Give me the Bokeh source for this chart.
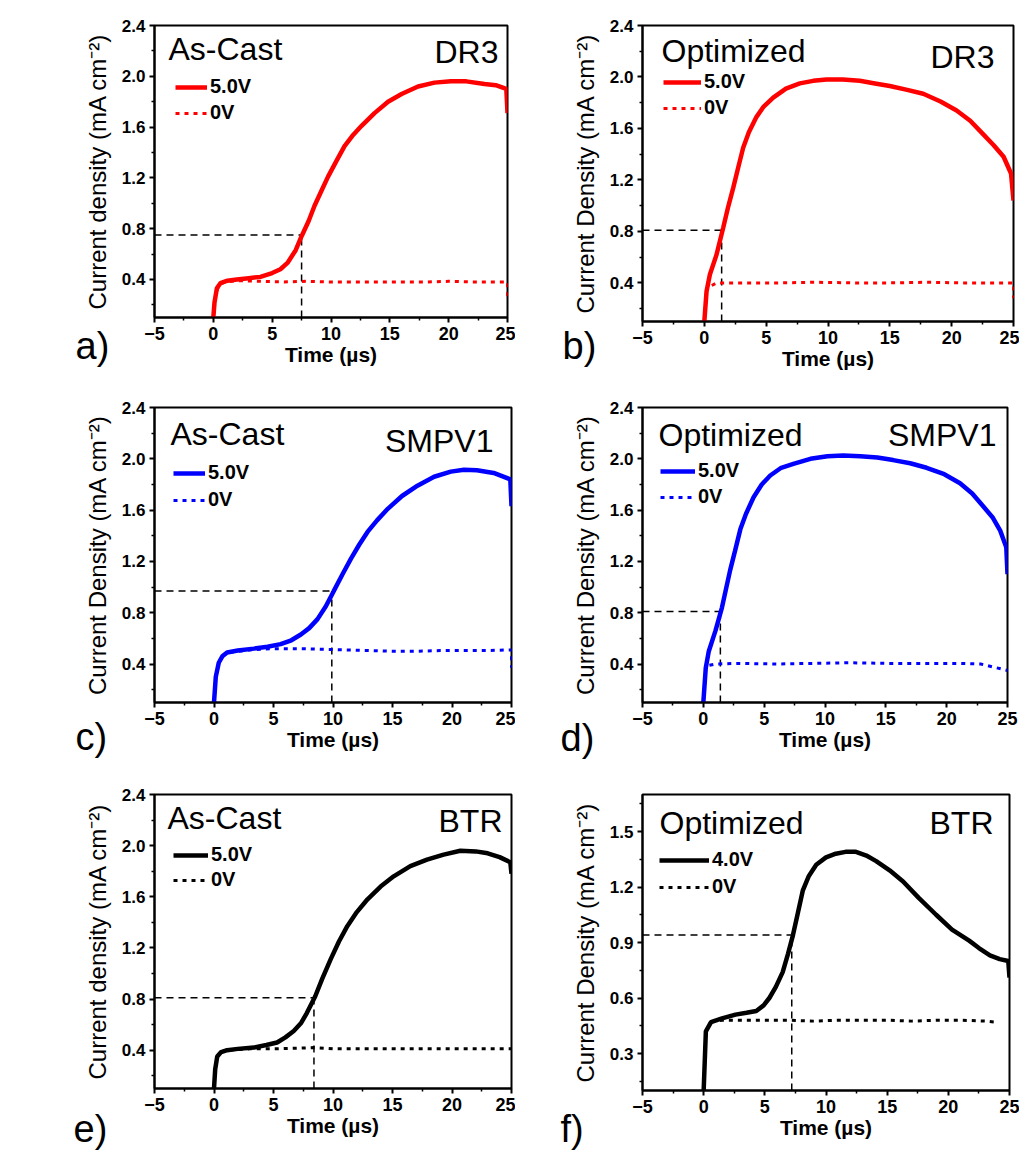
from bokeh.plotting import figure
from bokeh.layouts import gridplot
from bokeh.models import (FixedTicker, NumeralTickFormatter, Legend, LegendItem,
                          Label, Range1d)
from bokeh.embed import file_html
from bokeh.resources import INLINE

FONT = "Liberation Sans"

# ---------------- data ----------------
x_ticks = [-5, 0, 5, 10, 15, 20, 25]
x_minor = [-2.5, 2.5, 7.5, 12.5, 17.5, 22.5]
y_ticks_main = [0.4, 0.8, 1.2, 1.6, 2.0, 2.4]
y_minor_main = [0.2, 0.6, 1.0, 1.4, 1.8, 2.2]
y_ticks_f = [0.3, 0.6, 0.9, 1.2, 1.5]
y_minor_f = [0.15, 0.45, 0.75, 1.05, 1.35, 1.65]

panel_letters = ["a)", "b)", "c)", "d)", "e)", "f)"]
conditions = ["As-Cast", "Optimized", "As-Cast", "Optimized", "As-Cast", "Optimized"]
materials = ["DR3", "DR3", "SMPV1", "SMPV1", "BTR", "BTR"]
bias_labels = ["5.0V", "5.0V", "5.0V", "5.0V", "5.0V", "4.0V"]
ylabels = ["Current density (mA cm\u207b\u00b2)", "Current Density (mA cm\u207b\u00b2)",
           "Current Density (mA cm\u207b\u00b2)", "Current Density (mA cm\u207b\u00b2)",
           "Current density (mA cm\u207b\u00b2)", "Current Density (mA cm\u207b\u00b2)"]
colors = ["#ff0000", "#ff0000", "#0000ff", "#0000ff", "#000000", "#000000"]

# guide (dashed) crossing points
guide_t = [7.5, 1.4, 9.9, 1.4, 8.4, 7.2]
guide_j = [0.75, 0.81, 0.97, 0.81, 0.81, 0.94]

# a) As-Cast DR3
a_on_t = [0, 0.1, 0.3, 0.6, 1.2, 2, 3, 4, 5, 5.7, 6.3, 7, 7.5, 8.1, 8.6, 9.2, 9.75, 10.5,
          11.15, 11.9, 12.6, 13.7, 14.85, 16, 17.4, 18.8, 20.2, 21.5, 23.05, 24, 24.9, 25]
a_on_j = [0.1, 0.22, 0.33, 0.37, 0.39, 0.40, 0.41, 0.42, 0.45, 0.48, 0.53, 0.63, 0.74, 0.86,
          0.98, 1.10, 1.21, 1.34, 1.45, 1.54, 1.61, 1.71, 1.80, 1.86, 1.92, 1.95, 1.96, 1.96,
          1.94, 1.93, 1.90, 1.71]
a_off_t = [0, 0.2, 0.5, 1, 2, 4, 6, 8, 10, 12, 14, 16, 18, 20, 22, 24, 25, 25]
a_off_j = [0.1, 0.28, 0.36, 0.38, 0.39, 0.385, 0.38, 0.385, 0.38, 0.38, 0.38, 0.38, 0.38,
           0.385, 0.38, 0.38, 0.38, 0.25]

# b) Optimized DR3
b_on_t = [0, 0.18, 0.45, 0.99, 1.53, 1.9, 2.34, 2.75, 3.14, 3.6, 4.22, 4.8, 5.57, 6.6, 7.72,
          8.8, 9.88, 11.2, 12.57, 13.8, 15, 16.4, 17.7, 19.1, 20.4, 21.5, 22.5, 23.4, 24.2,
          24.8, 25]
b_on_j = [0.1, 0.335, 0.465, 0.62, 0.83, 0.98, 1.14, 1.30, 1.45, 1.57, 1.69, 1.77, 1.84,
          1.91, 1.95, 1.97, 1.98, 1.98, 1.97, 1.95, 1.93, 1.90, 1.87, 1.81, 1.74, 1.66, 1.56,
          1.47, 1.38, 1.25, 1.04]
b_off_t = [0.6, 1, 3, 6, 9, 12, 15, 18, 21, 24, 25, 25]
b_off_j = [0.38, 0.40, 0.40, 0.40, 0.405, 0.40, 0.40, 0.405, 0.40, 0.40, 0.40, 0.28]

# c) As-Cast SMPV1
c_on_t = [0, 0.15, 0.4, 0.7, 1.1, 2, 3.35, 4.5, 5.6, 6.5, 7.3, 8, 8.7, 9.4, 10.07, 10.8,
          11.5, 12.2, 12.9, 13.7, 14.6, 15.8, 17.1, 18.5, 19.9, 21, 22.1, 23.5, 24.9, 25]
c_on_j = [0.1, 0.3, 0.41, 0.46, 0.49, 0.505, 0.52, 0.535, 0.555, 0.585, 0.63, 0.68, 0.75,
          0.85, 0.97, 1.10, 1.22, 1.33, 1.43, 1.52, 1.61, 1.71, 1.79, 1.86, 1.90, 1.915,
          1.91, 1.89, 1.84, 1.63]
c_off_t = [0.7, 1.1, 3, 5, 7, 9, 11, 13, 15, 17, 19, 21, 23, 25, 25]
c_off_j = [0.46, 0.49, 0.51, 0.52, 0.52, 0.515, 0.51, 0.505, 0.50, 0.50, 0.505, 0.505,
           0.505, 0.51, 0.37]

# d) Optimized SMPV1
d_on_t = [0, 0.2, 0.45, 1.0, 1.53, 2.2, 2.6, 3.04, 3.5, 4.13, 4.8, 5.5, 6.4, 7.4, 8.8, 10.2,
          11.5, 12.9, 14.3, 15.6, 17, 18.35, 19.8, 21.1, 22.1, 23.0, 23.8, 24.4, 24.9, 25]
d_on_j = [0.1, 0.37, 0.50, 0.66, 0.84, 1.13, 1.28, 1.45, 1.57, 1.70, 1.80, 1.87, 1.93,
          1.96, 2.00, 2.02, 2.025, 2.02, 2.01, 1.99, 1.965, 1.93, 1.88, 1.81, 1.73, 1.63,
          1.54, 1.44, 1.31, 1.10]
d_off_t = [0.5, 1, 3, 6, 9, 12, 15, 18, 21, 22.8, 25]
d_off_j = [0.39, 0.40, 0.405, 0.40, 0.405, 0.41, 0.405, 0.405, 0.405, 0.40, 0.35]

# e) As-Cast BTR
e_on_t = [0, 0.1, 0.27, 0.6, 1.1, 2, 3.35, 4.4, 5.3, 6, 6.7, 7.3, 7.8, 8.5, 9.1, 9.8, 10.5,
          11.2, 12, 12.9, 14, 15.1, 16.5, 17.9, 19.3, 20.7, 22, 23, 24, 24.9, 25]
e_on_j = [0.1, 0.25, 0.35, 0.385, 0.40, 0.41, 0.42, 0.44, 0.46, 0.50, 0.55, 0.61, 0.69,
          0.82, 0.96, 1.11, 1.25, 1.37, 1.48, 1.58, 1.68, 1.76, 1.84, 1.89, 1.93, 1.96,
          1.955, 1.94, 1.91, 1.87, 1.78]
e_off_t = [0.6, 1, 3, 5, 7, 8.4, 10, 12, 14, 16, 18, 20, 22, 24, 25]
e_off_j = [0.385, 0.40, 0.41, 0.41, 0.415, 0.42, 0.41, 0.41, 0.41, 0.41, 0.41, 0.41, 0.41,
           0.41, 0.41]

# f) Optimized BTR
f_on_t = [0, 0.18, 0.6, 1.5, 2.6, 3.5, 4.3, 4.9, 5.37, 5.9, 6.46, 6.9, 7.3, 7.7, 8.1, 8.6,
          9.2, 10, 10.8, 11.6, 12.45, 13.3, 14.1, 15.2, 16.3, 17.6, 19.0, 20.3, 21.7, 22.5,
          23.4, 24.2, 24.9, 25]
f_on_j = [0.1, 0.42, 0.47, 0.49, 0.51, 0.52, 0.53, 0.56, 0.60, 0.66, 0.74, 0.84, 0.94,
          1.06, 1.18, 1.26, 1.32, 1.36, 1.38, 1.39, 1.39, 1.37, 1.34, 1.29, 1.23, 1.14, 1.05,
          0.97, 0.91, 0.87, 0.83, 0.81, 0.80, 0.71]
f_off_t = [0.6, 1.5, 3, 5, 7, 9, 11, 13, 15, 17, 19, 21, 23, 23.8]
f_off_j = [0.47, 0.48, 0.48, 0.48, 0.48, 0.475, 0.48, 0.48, 0.48, 0.475, 0.48, 0.48,
           0.475, 0.47]

on_series = [(a_on_t, a_on_j), (b_on_t, b_on_j), (c_on_t, c_on_j),
             (d_on_t, d_on_j), (e_on_t, e_on_j), (f_on_t, f_on_j)]
off_series = [(a_off_t, a_off_j), (b_off_t, b_off_j), (c_off_t, c_off_j),
              (d_off_t, d_off_j), (e_off_t, e_off_j), (f_off_t, f_off_j)]
y_ranges = [(0.1, 2.4)] * 5 + [(0.1, 1.7)]

# ---------------- layout / style (pixels) ----------------
# (border_left, frame_w, border_right, border_top, frame_h, border_bottom)
geom = [
    (154, 353, 8, 25, 292, 53),
    (121, 371, 12, 25, 296, 49),
    (154, 357, 4, 35, 295, 60),
    (127, 365, 12, 34, 295, 61),
    (154, 357, 4, 32, 294, 67),
    (125, 367, 12, 30, 296, 67),
]
# condition label (x, y), material label (right x, y) in frame px
cond_pos = [(14, 269), (19, 271), (16, 269), (16, 268), (13, 271), (17, 268)]
mat_pos = [(344, 266), (352, 265), (339, 262), (354, 268), (348, 268), (351, 268)]
# legend (x, bottom y, glyph width, spacing)
leg_pos = [(21, 193, 32, 3), (21, 202, 38, 3), (19, 191, 32, 4),
           (18, 194, 35, 3), (19, 197, 35, 2), (17, 192, 50, 4)]
# panel letter position in the figure's canvas pixels (left x, middle y)
letter_pos = [(75, 345), (47, 345), (75, 364), (45, 365), (73, 366), (45, 366)]


def make_panel(i):
    bl, fw, br, bt, fh, bb = geom[i]
    y0, y1 = y_ranges[i]
    p = figure(frame_width=fw, frame_height=fh,
               min_border_left=bl, min_border_right=br,
               min_border_top=bt, min_border_bottom=bb,
               x_range=Range1d(-5, 25), y_range=Range1d(y0, y1),
               output_backend="svg", toolbar_location=None,
               background_fill_color="white", border_fill_color="white")
    p.xgrid.visible = False
    p.ygrid.visible = False
    p.outline_line_color = "black"
    p.outline_line_width = 2
    p.outline_line_alpha = 1

    p.xaxis.ticker = FixedTicker(ticks=x_ticks, minor_ticks=x_minor)
    if i == 5:
        p.yaxis.ticker = FixedTicker(ticks=y_ticks_f, minor_ticks=y_minor_f)
    else:
        p.yaxis.ticker = FixedTicker(ticks=y_ticks_main, minor_ticks=y_minor_main)
    p.yaxis.formatter = NumeralTickFormatter(format="0.0")

    for ax in (p.xaxis[0], p.yaxis[0]):
        ax.axis_line_width = 2
        ax.axis_line_color = "black"
        ax.major_tick_line_width = 2
        ax.major_tick_out = 5
        ax.major_tick_in = 0
        ax.minor_tick_line_width = 1.5
        ax.minor_tick_out = 3
        ax.minor_tick_in = 0
        ax.major_label_text_font = FONT
        ax.major_label_text_font_style = "bold"
        ax.major_label_text_color = "black"
        ax.axis_label_text_color = "black"
        ax.axis_label_text_font = FONT

    p.xaxis.major_label_text_font_size = "18px"
    p.yaxis.major_label_text_font_size = "17px"
    p.xaxis.major_label_standoff = 4
    p.yaxis.major_label_standoff = 4

    p.xaxis.axis_label = "Time (\u00b5s)"
    p.xaxis.axis_label_text_font_size = "21px"
    p.xaxis.axis_label_text_font_style = "bold"
    p.xaxis.axis_label_standoff = 0

    p.yaxis.axis_label = ylabels[i]
    p.yaxis.axis_label_text_font_size = "24px"
    p.yaxis.axis_label_text_font_style = "normal"
    p.yaxis.axis_label_standoff = 8

    col = colors[i]
    # dashed guide lines
    gt, gj = guide_t[i], guide_j[i]
    p.line([-5, gt], [gj, gj], line_color="black", line_width=1.5, line_dash="7 5")
    p.line([gt, gt], [y0, gj], line_color="black", line_width=1.5, line_dash="7 5")

    ot, oj = off_series[i]
    r_off = p.line(ot, oj, line_color=col, line_width=3, line_dash="4 5")
    nt, nj = on_series[i]
    r_on = p.line(nt, nj, line_color=col, line_width=4.5)

    lx, ly, gw, sp = leg_pos[i]
    leg = Legend(items=[LegendItem(label=bias_labels[i], renderers=[r_on]),
                        LegendItem(label="0V", renderers=[r_off])],
                 location=(lx, ly), orientation="vertical",
                 padding=0, margin=0, spacing=sp,
                 glyph_width=gw, glyph_height=22, label_height=22,
                 label_standoff=3,
                 label_text_font=FONT, label_text_font_style="bold",
                 label_text_font_size="20px", label_text_color="black",
                 border_line_alpha=0, background_fill_alpha=0)
    p.add_layout(leg)

    cx, cy = cond_pos[i]
    p.add_layout(Label(x=cx, y=cy, x_units="screen", y_units="screen",
                       text=conditions[i], text_font=FONT, text_font_size="32px",
                       text_align="left", text_baseline="alphabetic", text_color="black"))
    mx, my = mat_pos[i]
    p.add_layout(Label(x=mx, y=my, x_units="screen", y_units="screen",
                       text=materials[i], text_font=FONT, text_font_size="32px",
                       text_align="right", text_baseline="alphabetic", text_color="black"))
    px_, py_ = letter_pos[i]
    # placed in a side panel so that it is not clipped to the plot frame
    p.add_layout(Label(x=px_, y=py_, x_units="canvas", y_units="canvas",
                       text=panel_letters[i], text_font=FONT, text_font_size="38px",
                       text_align="left", text_baseline="middle", text_color="black"),
                 "left")
    return p


figs = [make_panel(i) for i in range(6)]
grid = gridplot([[figs[0], figs[1]], [figs[2], figs[3]], [figs[4], figs[5]]],
                toolbar_location=None)

open("out.html", "w").write(file_html(grid, INLINE))
